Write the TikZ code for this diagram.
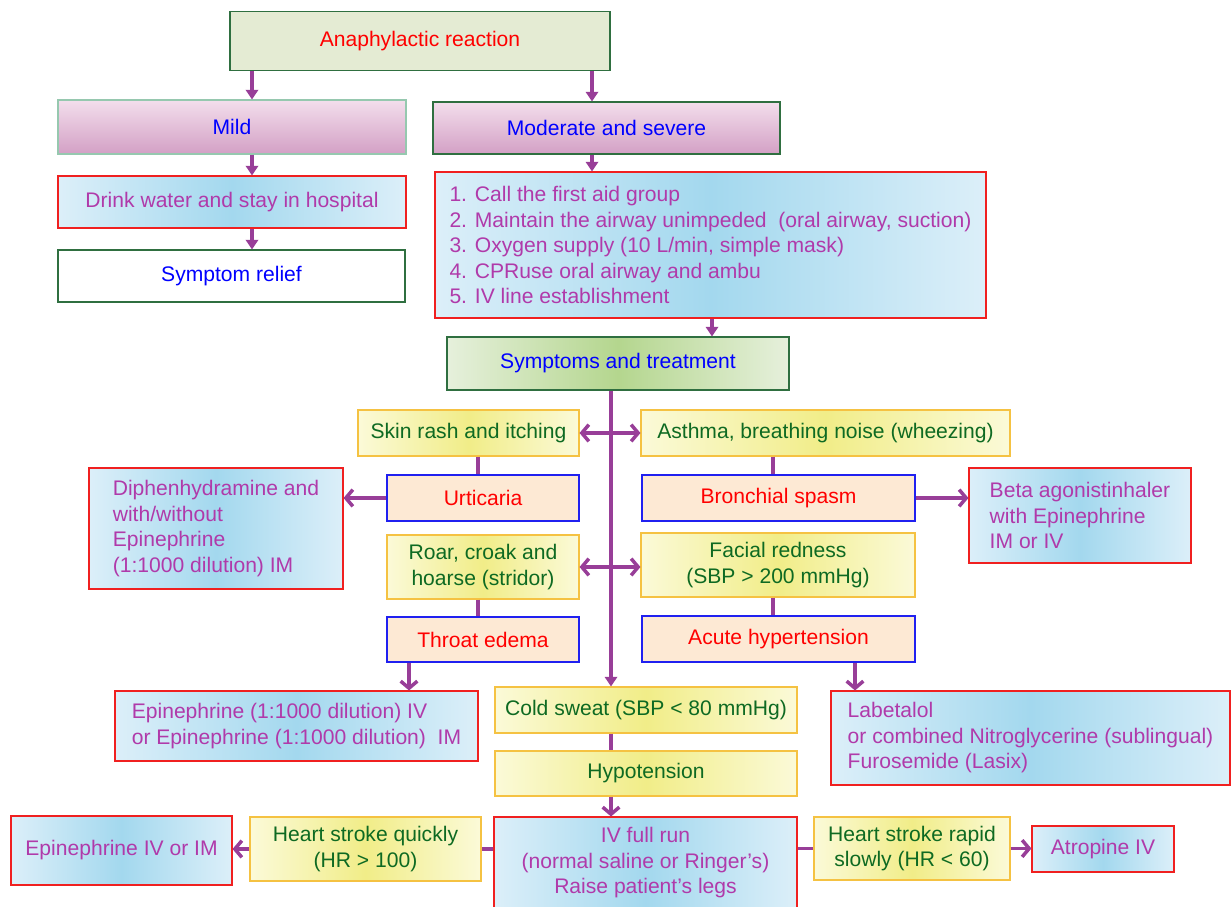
\documentclass[tikz,border=0pt]{standalone}
\usepackage{fontspec}
\setmainfont{Liberation Sans}
\usetikzlibrary{arrows.meta}
\definecolor{anafill}{HTML}{E4EBD3}
\definecolor{dgreen}{HTML}{2F6F40}
\definecolor{mildline}{HTML}{96C8AF}
\definecolor{pinktop}{HTML}{F3DEEC}
\definecolor{pinkbot}{HTML}{D3A0C5}
\definecolor{bluelt}{HTML}{DCEFF9}
\definecolor{bluedk}{HTML}{A3D8EE}
\definecolor{yellt}{HTML}{FBFAD8}
\definecolor{yeldk}{HTML}{F1ED88}
\definecolor{yelline}{HTML}{F5C242}
\definecolor{peach}{HTML}{FDE9D4}
\definecolor{symlt}{HTML}{E6F0DC}
\definecolor{symdk}{HTML}{B4D68E}
\definecolor{txtpurple}{HTML}{B03AAA}
\definecolor{txtgreen}{HTML}{0E6A22}
\definecolor{arrcol}{HTML}{983E98}
\definecolor{boxred}{HTML}{F02020}
\definecolor{boxblue}{HTML}{2020F0}

\begin{document}
\begin{tikzpicture}[
  box/.style={draw, line width=0.6pt, inner sep=0pt, align=center, font=\fontsize{12}{14.5}\selectfont},
  sz/.style 2 args={minimum width=#1cm, minimum height=#2cm},
  pinkbox/.style={box, draw=dgreen, top color=pinktop, bottom color=pinkbot, text=blue},
  bluebox/.style={box, draw=boxred, left color=bluelt, right color=bluelt, middle color=bluedk, text=txtpurple},
  yelbox/.style={box, draw=yelline, left color=yellt, right color=yellt, middle color=yeldk, text=txtgreen},
  peachbox/.style={box, draw=boxblue, fill=peach, text=red},
  conn/.style={draw=arrcol, line width=2pt},
  arr/.style={conn, -{Triangle[length=5.5pt,width=7pt]}},
  barb/.style={conn, -{Straight Barb[length=4pt,width=9.5pt]}}
]
\useasboundingbox (0,0) rectangle (24.62,-18.14);

% top part
\node[box, sz={7.60}{1.18}, draw=dgreen, fill=anafill, text=red] (ana) at (8.40,-0.82) {Anaphylactic reaction};
\node[pinkbox, sz={6.96}{1.08}, draw=mildline] (mild) at (4.64,-2.54) {Mild};
\node[pinkbox, sz={6.94}{1.04}] (mod) at (12.13,-2.56) {Moderate and severe};
\node[bluebox, sz={6.96}{1.04}] (drink) at (4.64,-4.04) {Drink water and stay in hospital};
\node[box, sz={6.94}{1.04}, draw=dgreen, fill=white, text=blue] (relief) at (4.63,-5.52) {Symptom relief};
\node[bluebox, sz={11.02}{2.92}, align=left] (steps) at (14.21,-4.90) {1. Call the first aid group\\2. Maintain the airway unimpeded~ (oral airway, suction)\\3. Oxygen supply (10 L/min, simple mask)\\4. CPRuse oral airway and ambu\\5. IV line establishment};
\node[box, sz={6.84}{1.06}, draw=dgreen, left color=symlt, right color=symlt, middle color=symdk, text=blue] (sym) at (12.36,-7.27) {Symptoms and treatment};

% symptoms
\node[yelbox, sz={4.42}{0.92}] (skin) at (9.37,-8.66) {Skin rash and itching};
\node[yelbox, sz={7.38}{0.92}] (asthma) at (16.51,-8.66) {Asthma, breathing noise (wheezing)};
\node[peachbox, sz={3.84}{0.92}] (urt) at (9.66,-9.96) {Urticaria};
\node[peachbox, sz={5.46}{0.92}] (bron) at (15.57,-9.96) {Bronchial spasm};
\node[bluebox, sz={5.08}{2.42}, align=left] (diph) at (4.32,-10.57) {Diphenhydramine and\\with/without\\Epinephrine\\(1:1000 dilution) IM};
\node[bluebox, sz={4.44}{1.90}, align=left] (beta) at (21.60,-10.31) {Beta agonistinhaler\\with Epinephrine\\IM or IV};
\node[yelbox, sz={3.84}{1.28}] (roar) at (9.66,-11.34) {Roar, croak and\\hoarse (stridor)};
\node[yelbox, sz={5.48}{1.28}] (facial) at (15.56,-11.30) {Facial redness\\(SBP > 200 mmHg)};
\node[peachbox, sz={3.84}{0.90}] (throat) at (9.66,-12.79) {Throat edema};
\node[peachbox, sz={5.46}{0.92}] (acute) at (15.57,-12.78) {Acute hypertension};
\node[bluebox, sz={7.26}{1.40}, align=left] (epi) at (5.93,-14.52) {Epinephrine (1:1000 dilution) IV\\or Epinephrine (1:1000 dilution)~ IM};
\node[bluebox, sz={7.98}{1.88}, align=left] (labet) at (20.61,-14.76) {Labetalol\\or combined Nitroglycerine (sublingual)\\Furosemide (Lasix)};

% hypotension branch
\node[yelbox, sz={6.04}{0.92}] (cold) at (12.92,-14.20) {Cold sweat (SBP < 80 mmHg)};
\node[yelbox, sz={6.04}{0.90}] (hypo) at (12.92,-15.47) {Hypotension};
\node[bluebox, sz={6.06}{1.84}] (ivrun) at (12.91,-17.26) {IV full run\\(normal saline or Ringer’s)\\Raise patient’s legs};
\node[yelbox, sz={4.62}{1.28}] (quick) at (7.31,-16.98) {Heart stroke quickly\\(HR > 100)};
\node[bluebox, sz={4.42}{1.38}] (epiim) at (2.43,-17.01) {Epinephrine IV or IM};
\node[yelbox, sz={3.92}{1.26}] (slow) at (18.24,-16.97) {Heart stroke rapid\\slowly (HR < 60)};
\node[bluebox, sz={2.84}{0.92}] (atro) at (22.06,-16.98) {Atropine IV};

% x positions of the vertical connectors
\coordinate (xa) at (5.04,0);
\coordinate (xb) at (11.84,0);
\coordinate (xc) at (14.24,0);
\coordinate (xt) at (12.22,0);
\coordinate (xl) at (9.56,0);
\coordinate (xr) at (15.46,0);
\coordinate (xe) at (8.18,0);
\coordinate (xh) at (17.10,0);

\draw[arr] (ana.south -| xa) -- (mild.north -| xa);
\draw[arr] (ana.south -| xb) -- (mod.north -| xb);
\draw[arr] (mild.south -| xa) -- (drink.north -| xa);
\draw[arr] (drink.south -| xa) -- (relief.north -| xa);
\draw[arr] (mod.south -| xb) -- (steps.north -| xb);
\draw[arr] (steps.south -| xc) -- (sym.north -| xc);
\draw[arr] (sym.south -| xt) -- (cold.north -| xt);

\draw[barb] (skin.east -| xt) -- (skin.east);
\draw[barb] (skin.east -| xt) -- (asthma.west);
\draw[barb] (roar.east -| xt) -- (roar.east);
\draw[barb] (roar.east -| xt) -- (facial.west |- roar.east);
\draw[conn] (skin.south -| xl) -- (urt.north -| xl);
\draw[conn] (asthma.south -| xr) -- (bron.north -| xr);
\draw[conn] (roar.south -| xl) -- (throat.north -| xl);
\draw[conn] (facial.south -| xr) -- (acute.north -| xr);
\draw[barb] (urt.west) -- (urt.west -| diph.east);
\draw[barb] (bron.east) -- (bron.east -| beta.west);
\draw[barb] (throat.south -| xe) -- (epi.north -| xe);
\draw[barb] (acute.south -| xh) -- (labet.north -| xh);

\draw[conn] (cold.south -| xt) -- (hypo.north -| xt);
\draw[barb] (hypo.south -| xt) -- (ivrun.north -| xt);
\draw[conn] (ivrun.west |- quick.east) -- (quick.east);
\draw[barb] (quick.west) -- (quick.west -| epiim.east);
\draw[conn] (ivrun.east |- slow.west) -- (slow.west);
\draw[barb] (slow.east) -- (slow.east -| atro.west);
\end{tikzpicture}
\end{document}
